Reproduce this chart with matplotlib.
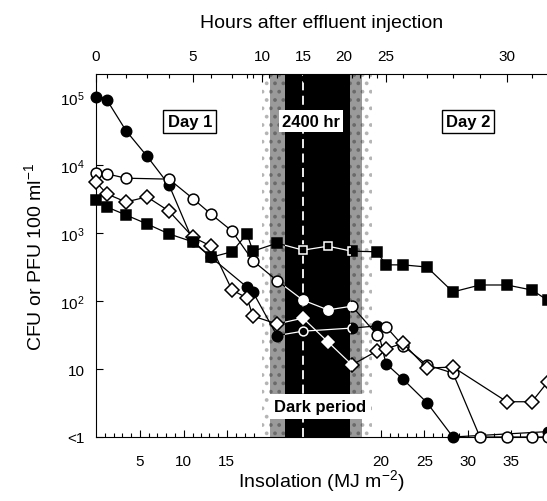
import numpy as np
import matplotlib
matplotlib.use('Agg')
import matplotlib.pyplot as plt
from matplotlib.patches import Rectangle

plt.rcParams['font.family'] = ['Liberation Sans', 'DejaVu Sans']
plt.rcParams['mathtext.fontset'] = 'custom'
plt.rcParams['mathtext.rm'] = 'Liberation Sans'
plt.rcParams['mathtext.bf'] = 'Liberation Sans:bold'
plt.rcParams['hatch.linewidth'] = 1.5

# hours after effluent injection -> position along the axis (axis is stretched
# by insolation during the day and compressed during the night)
H_KNOT = [0, 1, 2, 3, 4, 5, 6, 7, 8, 9, 10, 12, 15, 18, 21, 24, 25, 26, 27, 28, 29, 30, 31, 32]
P_KNOT = [96, 107, 126, 147, 169, 193, 211, 232, 247, 253, 262, 277, 303, 328, 352, 377, 386, 403,
          427, 453, 480, 507, 532, 558]

# cumulative insolation (MJ m-2) at hours, day 1 and day 2
day1_h = [0, 1, 2, 3, 4, 5, 6, 7, 8, 9, 10]
day1_ins = [0, 1.25, 3.4, 5.8, 8.4, 11.0, 13.2, 15.6, 17.2, 17.9, 18.9]
day2_h = [24, 25, 26, 27, 28, 29, 30, 31, 32]
day2_ins = [19.5, 20.6, 22.5, 25.3, 28.3, 31.4, 34.5, 37.4, 40.3]

# filled circles
fc_h = [0, 1, 2, 3, 4, 5, 6, 8, 9, 12, 15, 21, 24, 25, 26, 27, 28, 31.6]
fc_v = [1.0e5, 9.0e4, 3.2e4, 1.35e4, 5100, 760, 440, 160, 135, 31, 36, 40, 43, 12, 7.1, 3.2, 1, 1.2]
# open circles
oc_h = [0, 1, 2, 4, 5, 6, 7, 9, 12, 15, 18, 21, 24, 25, 26, 27, 28, 29, 30, 31, 31.6]
oc_v = [7600, 7400, 6400, 6200, 3200, 1900, 1070, 390, 200, 103, 74, 84, 32, 42, 22, 11.5, 8.7,
        1, 1, 1, 1]
# open diamonds
od_h = [0, 1, 2, 3, 4, 5, 6, 7, 8, 9, 12, 15, 18, 21, 24, 25, 26, 27, 28, 30, 31, 31.6]
od_v = [5600, 3750, 2860, 3400, 2100, 870, 640, 145, 111, 60, 46, 56, 25, 11.5, 18.4, 19.7, 24,
        10.3, 10.7, 3.3, 3.3, 6.4]
# filled squares
fs_h = [0, 1, 2, 3, 4, 5, 6, 7, 8, 9, 12, 15, 18, 21, 24, 25, 26, 27, 28, 29, 30, 31, 31.6]
fs_v = [3060, 2410, 1840, 1360, 970, 740, 440, 530, 970, 540, 710, 560, 640, 540, 530, 340, 340,
        316, 136, 172, 172, 145, 103]

y_ticks = [1, 10, 100, 1000, 1e4, 1e5]
y_labels = ['<1', '10', r'$\mathregular{10^2}$', r'$\mathregular{10^3}$',
            r'$\mathregular{10^4}$', r'$\mathregular{10^5}$']


def fwd(h):
    return np.interp(h, H_KNOT, P_KNOT)


def inv(p):
    return np.interp(p, P_KNOT, H_KNOT)


fig = plt.figure(figsize=(5.47, 5.02), dpi=100)
ax = fig.add_axes([96 / 547, 64 / 502, 451 / 547, 363 / 502])
ax.set_xscale('function', functions=(fwd, inv))
ax.set_yscale('log')
ax.set_xlim(0, 31.58)
ax.set_ylim(1, 2.18e5)

# dark period band, stippled edges
ax.axvspan(10, 23.4, fc='white', ec='#b5b5b5', hatch='..', lw=0, zorder=0)
ax.axvspan(11.07, 22.2, fc='#9a9a9a', ec='#6a6a6a', hatch='..', lw=0, zorder=0)
ax.axvspan(12.92, 20.75, color='black', lw=0, zorder=0)
ax.axvline(15, color='white', lw=1.3, ls=(0, (5, 3)), zorder=1)

series = [
    (fc_h, fc_v, 'o', 'black', 7.5),
    (oc_h, oc_v, 'o', 'white', 7.8),
    (od_h, od_v, 'D', 'white', 6.8),
    (fs_h, fs_v, 's', 'black', 7.0),
]
core = Rectangle((12.92, 0), 20.75 - 12.92, 1, transform=ax.get_xaxis_transform())
for h, v, m, face, ms in series:
    ax.plot(h, v, color='black', lw=0.9, marker=m, ms=ms, mfc=face, mec='black', mew=1.1,
            clip_on=False, zorder=3)
    # inside the dark band the ink is white
    ln, = ax.plot(h, v, color='white', lw=0.9, marker=m, ms=ms * 0.85, mfc=face, mec='white',
                  mew=1.1, zorder=4)
    ln.set_clip_path(core)

# bottom axis: insolation
maj1 = [5, 10, 15]
maj2 = [20, 25, 30, 35]
min1 = [i for i in range(1, 19) if i % 5]
min2 = [i for i in range(21, 40) if i % 5]
ax.set_xticks(list(np.interp(maj1, day1_ins, day1_h)) + list(np.interp(maj2, day2_ins, day2_h)))
ax.set_xticklabels([str(i) for i in maj1 + maj2])
ax.set_xticks(list(np.interp(min1, day1_ins, day1_h)) + list(np.interp(min2, day2_ins, day2_h)),
              minor=True)
ax.set_yticks(y_ticks)
ax.set_yticklabels(y_labels)
ax.yaxis.set_minor_locator(matplotlib.ticker.NullLocator())
ax.tick_params(which='both', direction='in', labelsize=11, width=0.8)
ax.tick_params(which='major', length=5)
ax.tick_params(which='minor', length=3)
ax.tick_params(axis='x', pad=12)
ax.tick_params(axis='y', pad=8)
ax.set_xlabel(r'Insolation (MJ m$^{\mathregular{-2}}$)', fontsize=14, labelpad=0)
ax.set_ylabel(r'CFU or PFU 100 ml$^{\mathregular{-1}}$', fontsize=14, labelpad=10)
for s in ['right', 'top']:
    ax.spines[s].set_visible(False)

# top axis: hours
ax2 = ax.twiny()
ax2.set_xscale('function', functions=(fwd, inv))
ax2.set_xlim(ax.get_xlim())
ax2.set_xticks([0, 5, 10, 15, 20, 25, 30])
ax2.set_xticks(range(0, 32), minor=True)
ax2.tick_params(which='both', direction='in', labelsize=11, width=0.8, pad=8)
ax2.tick_params(which='major', length=6)
ax2.tick_params(which='minor', length=3)
ax2.set_xlabel('Hours after effluent injection', fontsize=14, labelpad=16)
for s in ['right', 'bottom', 'left']:
    ax2.spines[s].set_visible(False)

box = dict(boxstyle='square,pad=0.25', fc='white', ec='black', lw=1)
ax.text(0.208, 0.87, 'Day 1', transform=ax.transAxes, ha='center', va='center',
        fontsize=12, fontweight='bold', bbox=box, zorder=6)
ax.text(0.825, 0.87, 'Day 2', transform=ax.transAxes, ha='center', va='center',
        fontsize=12, fontweight='bold', bbox=box, zorder=6)
ax.text(0.477, 0.87, '2400 hr', transform=ax.transAxes, ha='center', va='center',
        fontsize=12, fontweight='bold', zorder=6,
        bbox=dict(boxstyle='square,pad=0.2', fc='white', ec='none'))
ax.text(0.497, 0.083, 'Dark period', transform=ax.transAxes, ha='center', va='center',
        fontsize=12, fontweight='bold', zorder=6,
        bbox=dict(boxstyle='square,pad=0.3', fc='white', ec='none'))

fig.savefig('out.png', dpi=100)
